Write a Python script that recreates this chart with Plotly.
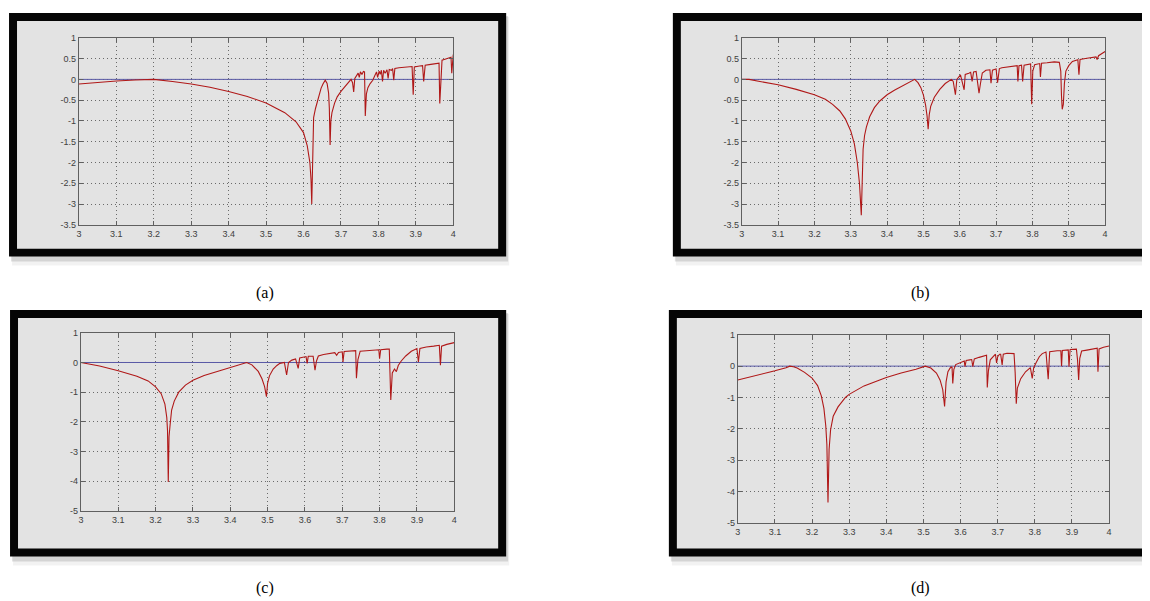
import plotly.graph_objects as go

W, H = 1150, 601
PAGE_OFFSET = 8  # page body margin compensation

# ---------------- data ----------------
A_x = [3.000, 3.050, 3.100, 3.150, 3.200, 3.250, 3.300, 3.350, 3.400, 3.450, 3.500, 3.550, 3.580, 3.600,
       3.610, 3.617, 3.620, 3.622, 3.624, 3.627, 3.632, 3.638, 3.643, 3.647, 3.652, 3.658, 3.663, 3.667,
       3.669, 3.671, 3.673, 3.676, 3.683, 3.690, 3.700, 3.710, 3.718, 3.727, 3.731, 3.734, 3.737, 3.742,
       3.746, 3.749, 3.752, 3.756, 3.760, 3.763, 3.765, 3.768, 3.772, 3.778, 3.785, 3.790, 3.795, 3.798,
       3.802, 3.805, 3.808, 3.811, 3.814, 3.818, 3.823, 3.826, 3.829, 3.835, 3.838, 3.841, 3.844, 3.855,
       3.870, 3.880, 3.890, 3.893, 3.896, 3.910, 3.918, 3.921, 3.925, 3.940, 3.955, 3.962, 3.964, 3.967,
       3.970, 3.980, 3.990, 3.994, 3.996, 3.998, 4.000]
A_y = [-0.11, -0.07, -0.04, -0.015, 0.00, -0.05, -0.11, -0.19, -0.29, -0.41, -0.57, -0.80, -1.02, -1.28,
       -1.60, -2.00, -2.40, -3.00, -2.00, -0.92, -0.70, -0.49, -0.34, -0.21, -0.11, -0.02, -0.10, -0.33,
       -0.70, -1.58, -1.00, -0.80, -0.57, -0.42, -0.29, -0.18, -0.09, 0.00, -0.08, -0.30, 0.02, 0.10,
       0.15, 0.05, 0.18, 0.12, 0.19, 0.18, -0.88, -0.35, -0.20, -0.10, -0.02, 0.08, 0.18, 0.05,
       0.20, 0.12, 0.22, -0.05, 0.22, 0.15, 0.23, 0.02, 0.24, 0.22, 0.26, -0.02, 0.26, 0.28,
       0.29, 0.30, 0.31, -0.37, 0.30, 0.32, 0.33, -0.05, 0.34, 0.36, 0.38, 0.39, -0.58, 0.15,
       0.46, 0.49, 0.52, 0.53, 0.15, 0.56, 0.60]

B_x = [3.000, 3.020, 3.050, 3.100, 3.150, 3.200, 3.230, 3.250, 3.270, 3.285, 3.300, 3.310, 3.318, 3.324,
       3.329, 3.331, 3.334, 3.338, 3.343, 3.352, 3.365, 3.380, 3.400, 3.420, 3.440, 3.460, 3.476, 3.485,
       3.493, 3.500, 3.506, 3.510, 3.513, 3.516, 3.520, 3.530, 3.545, 3.560, 3.577, 3.582, 3.588, 3.592,
       3.597, 3.602, 3.612, 3.615, 3.625, 3.630, 3.634, 3.638, 3.645, 3.653, 3.657, 3.662, 3.672, 3.683,
       3.686, 3.690, 3.695, 3.700, 3.704, 3.709, 3.716, 3.730, 3.748, 3.758, 3.760, 3.763, 3.770, 3.773,
       3.777, 3.790, 3.795, 3.798, 3.801, 3.806, 3.820, 3.822, 3.825, 3.840, 3.860, 3.874, 3.878, 3.880,
       3.882, 3.885, 3.888, 3.892, 3.900, 3.910, 3.925, 3.928, 3.931, 3.950, 3.970, 3.975, 3.978, 3.982,
       4.000]
B_y = [0.00, 0.00, -0.05, -0.13, -0.24, -0.37, -0.48, -0.60, -0.76, -0.95, -1.24, -1.55, -2.00, -2.50,
       -3.27, -2.30, -1.68, -1.35, -1.15, -0.90, -0.68, -0.52, -0.37, -0.26, -0.16, -0.07, 0.00, -0.08,
       -0.20, -0.38, -0.62, -0.88, -1.20, -0.85, -0.65, -0.43, -0.24, -0.10, 0.00, -0.05, -0.37, 0.00,
       0.05, 0.11, -0.25, 0.12, 0.15, 0.17, -0.05, 0.18, 0.19, -0.33, -0.10, 0.15, 0.22, 0.23,
       -0.09, 0.22, 0.24, 0.25, -0.08, 0.26, 0.28, 0.30, 0.32, 0.33, -0.05, 0.33, 0.34, -0.05,
       0.34, 0.37, 0.37, -0.60, 0.20, 0.35, 0.38, 0.06, 0.39, 0.40, 0.42, 0.41, 0.20, -0.40,
       -0.72, -0.60, -0.10, 0.20, 0.33, 0.43, 0.47, 0.11, 0.48, 0.51, 0.54, 0.54, 0.48, 0.57,
       0.67]

C_x = [3.000, 3.050, 3.100, 3.150, 3.180, 3.200, 3.215, 3.225, 3.230, 3.232, 3.234, 3.236, 3.239, 3.243,
       3.250, 3.262, 3.280, 3.300, 3.330, 3.360, 3.400, 3.420, 3.444, 3.458, 3.475, 3.485, 3.492, 3.497,
       3.500, 3.505, 3.515, 3.525, 3.533, 3.545, 3.551, 3.556, 3.565, 3.575, 3.582, 3.586, 3.600, 3.603,
       3.606, 3.609, 3.622, 3.627, 3.631, 3.636, 3.650, 3.670, 3.680, 3.685, 3.690, 3.700, 3.702, 3.705,
       3.720, 3.736, 3.738, 3.742, 3.748, 3.770, 3.790, 3.798, 3.800, 3.803, 3.820, 3.826, 3.830, 3.834,
       3.840, 3.845, 3.850, 3.858, 3.870, 3.885, 3.900, 3.904, 3.908, 3.925, 3.945, 3.960, 3.963, 3.966,
       3.980, 4.000]
C_y = [0.00, -0.12, -0.28, -0.46, -0.62, -0.82, -1.05, -1.40, -1.85, -2.30, -4.02, -2.50, -2.09, -1.60,
       -1.30, -1.00, -0.76, -0.60, -0.44, -0.32, -0.18, -0.10, 0.00, -0.08, -0.30, -0.55, -0.81, -1.15,
       -0.70, -0.45, -0.22, -0.10, -0.03, 0.00, -0.42, 0.00, 0.08, 0.12, -0.20, 0.15, 0.19, 0.20,
       -0.03, 0.21, 0.21, -0.26, 0.05, 0.22, 0.27, 0.30, 0.33, 0.24, 0.34, 0.36, 0.02, 0.37,
       0.39, 0.40, -0.53, 0.10, 0.38, 0.40, 0.42, 0.43, 0.13, 0.43, 0.45, 0.45, -1.26, -0.35,
       -0.22, -0.31, -0.10, 0.05, 0.22, 0.38, 0.47, 0.02, 0.47, 0.52, 0.55, 0.58, -0.09, 0.55,
       0.61, 0.67]

D_x = [3.000, 3.050, 3.100, 3.130, 3.140, 3.150, 3.160, 3.180, 3.200, 3.215, 3.225, 3.232, 3.237, 3.240,
       3.243, 3.246, 3.250, 3.257, 3.270, 3.290, 3.300, 3.340, 3.380, 3.400, 3.440, 3.480, 3.505, 3.520,
       3.535, 3.545, 3.552, 3.557, 3.561, 3.566, 3.572, 3.577, 3.579, 3.582, 3.587, 3.600, 3.610, 3.612,
       3.615, 3.625, 3.630, 3.633, 3.637, 3.650, 3.665, 3.670, 3.672, 3.675, 3.680, 3.690, 3.694, 3.697,
       3.700, 3.705, 3.708, 3.712, 3.715, 3.725, 3.740, 3.744, 3.747, 3.750, 3.753, 3.762, 3.775, 3.788,
       3.793, 3.797, 3.803, 3.812, 3.820, 3.830, 3.836, 3.840, 3.860, 3.870, 3.872, 3.874, 3.890, 3.892,
       3.895, 3.912, 3.915, 3.918, 3.921, 3.926, 3.940, 3.960, 3.968, 3.970, 3.973, 3.985, 4.000]
D_y = [-0.44, -0.30, -0.15, -0.05, 0.00, -0.02, -0.06, -0.20, -0.38, -0.62, -0.95, -1.35, -1.90, -2.50,
       -4.35, -2.66, -2.03, -1.60, -1.30, -1.00, -0.90, -0.63, -0.44, -0.36, -0.22, -0.10, 0.00, -0.06,
       -0.22, -0.45, -0.75, -1.29, -0.50, -0.18, -0.06, -0.02, -0.55, -0.10, 0.05, 0.12, 0.16, -0.02,
       0.18, 0.20, 0.21, -0.02, 0.23, 0.28, 0.33, 0.35, -0.68, -0.15, 0.20, 0.35, 0.38, 0.10,
       0.30, 0.38, 0.38, 0.04, 0.38, 0.41, 0.42, 0.40, -0.20, -1.20, -0.70, -0.40, -0.18, -0.05,
       -0.39, -0.05, 0.10, 0.30, 0.40, 0.45, -0.42, 0.46, 0.49, 0.49, 0.00, 0.50, 0.52, -0.02,
       0.53, 0.54, 0.20, -0.44, 0.25, 0.48, 0.51, 0.56, 0.57, -0.18, 0.55, 0.60, 0.64]

ZERO_X = [3.0, 4.0]
ZERO_Y = [0.0, 0.0]

X_TICKS = [3.0, 3.1, 3.2, 3.3, 3.4, 3.5, 3.6, 3.7, 3.8, 3.9, 4.0]
X_TICKTEXT = ["3", "3.1", "3.2", "3.3", "3.4", "3.5", "3.6", "3.7", "3.8", "3.9", "4"]
Y_TICKS_AB = [1, 0.5, 0, -0.5, -1, -1.5, -2, -2.5, -3, -3.5]
Y_TICKTEXT_AB = ["1", "0.5", "0", "-0.5", "-1", "-1.5", "-2", "-2.5", "-3", "-3.5"]
Y_TICKS_CD = [1, 0, -1, -2, -3, -4, -5]
Y_TICKTEXT_CD = ["1", "0", "-1", "-2", "-3", "-4", "-5"]
CAPTIONS = ["(a)", "(b)", "(c)", "(d)"]

# ---------------- layout geometry (target image pixels) ----------------
panels = [
    dict(x=A_x, y=A_y, box=(77, 452, 34, 223), frame=(7, 505, 9, 255), yr=(-3.5, 1),
         yt=(Y_TICKS_AB, Y_TICKTEXT_AB), cap=(263, 292)),
    dict(x=B_x, y=B_y, box=(741, 1105, 34, 223), frame=(672, 1168, 9, 255), yr=(-3.5, 1),
         yt=(Y_TICKS_AB, Y_TICKTEXT_AB), cap=(920, 292)),
    dict(x=C_x, y=C_y, box=(79, 453, 332, 512), frame=(8, 505, 309, 558), yr=(-5, 1),
         yt=(Y_TICKS_CD, Y_TICKTEXT_CD), cap=(263, 590)),
    dict(x=D_x, y=D_y, box=(737, 1109, 334, 524), frame=(668, 1168, 309, 558), yr=(-5, 1),
         yt=(Y_TICKS_CD, Y_TICKTEXT_CD), cap=(920, 590)),
]

SX = 1 + 0.5 * PAGE_OFFSET / W
SY = 1 + 0.5 * PAGE_OFFSET / H

def px(v):
    return (v * SX - PAGE_OFFSET - 1) / W

def py(v):
    return 1 - (v * SY - PAGE_OFFSET - 1) / H

fig = go.Figure()
shapes = []
annotations = []
BORDER = 8
GRAY = "#e3e3e3"

for i, p in enumerate(panels):
    n = "" if i == 0 else str(i + 1)
    xa, ya = "x" + n, "y" + n
    fx0, fx1, fy0, fy1 = p["frame"]
    # soft shadow
    shapes.append(dict(type="rect", xref="paper", yref="paper", layer="below",
                       x0=px(fx0 + 3), x1=px(fx1 + 3), y0=py(fy1 + 9), y1=py(fy0 + 4),
                       fillcolor="rgba(0,0,0,0.05)", line=dict(width=0)))
    shapes.append(dict(type="rect", xref="paper", yref="paper", layer="below",
                       x0=px(fx0 + 2), x1=px(fx1 + 2), y0=py(fy1 + 5), y1=py(fy0 + 3),
                       fillcolor="rgba(0,0,0,0.12)", line=dict(width=0)))
    # frame
    shapes.append(dict(type="rect", xref="paper", yref="paper", layer="below",
                       x0=px(fx0), x1=px(fx1), y0=py(fy1), y1=py(fy0),
                       fillcolor="#050505", line=dict(width=0)))
    shapes.append(dict(type="rect", xref="paper", yref="paper", layer="below",
                       x0=px(fx0 + BORDER), x1=px(fx1 - BORDER), y0=py(fy1 - BORDER), y1=py(fy0 + BORDER),
                       fillcolor=GRAY, line=dict(width=0)))

    bx0, bx1, by0, by1 = p["box"]
    axis_common = dict(showline=True, linecolor="#606060", linewidth=1, mirror="ticks",
                       ticks="inside", ticklen=4, tickcolor="#606060",
                       showgrid=True, gridcolor="#6a6a6a", griddash="1px,3px", gridwidth=1,
                       zeroline=False, tickfont=dict(family="Liberation Sans", size=9, color="#404040"))
    fig.update_layout(**{
        ("xaxis" + n): dict(domain=[px(bx0), px(bx1)], range=[3, 4], anchor=ya,
                            tickvals=X_TICKS, ticktext=X_TICKTEXT, **axis_common),
        ("yaxis" + n): dict(domain=[py(by1), py(by0)], range=list(p["yr"]), anchor=xa,
                            tickvals=p["yt"][0], ticktext=p["yt"][1], **axis_common),
    })

    fig.add_trace(go.Scatter(x=ZERO_X, y=ZERO_Y, mode="lines", xaxis=xa, yaxis=ya,
                             line=dict(color="#5a5aa6", width=1), showlegend=False, hoverinfo="skip"))
    fig.add_trace(go.Scatter(x=p["x"], y=p["y"], mode="lines", xaxis=xa, yaxis=ya,
                             line=dict(color="#b01818", width=1.1), showlegend=False))

    cx, cy = p["cap"]
    annotations.append(dict(text=CAPTIONS[i], x=px(cx), y=py(cy), xref="paper", yref="paper",
                            showarrow=False, xanchor="center", yanchor="middle",
                            font=dict(family="Liberation Serif", size=16, color="#000")))

fig.update_layout(width=W, height=H, margin=dict(l=0, r=0, t=0, b=0),
                  paper_bgcolor="white", plot_bgcolor="rgba(0,0,0,0)",
                  shapes=shapes, annotations=annotations, showlegend=False)

fig.write_html("out.html")
